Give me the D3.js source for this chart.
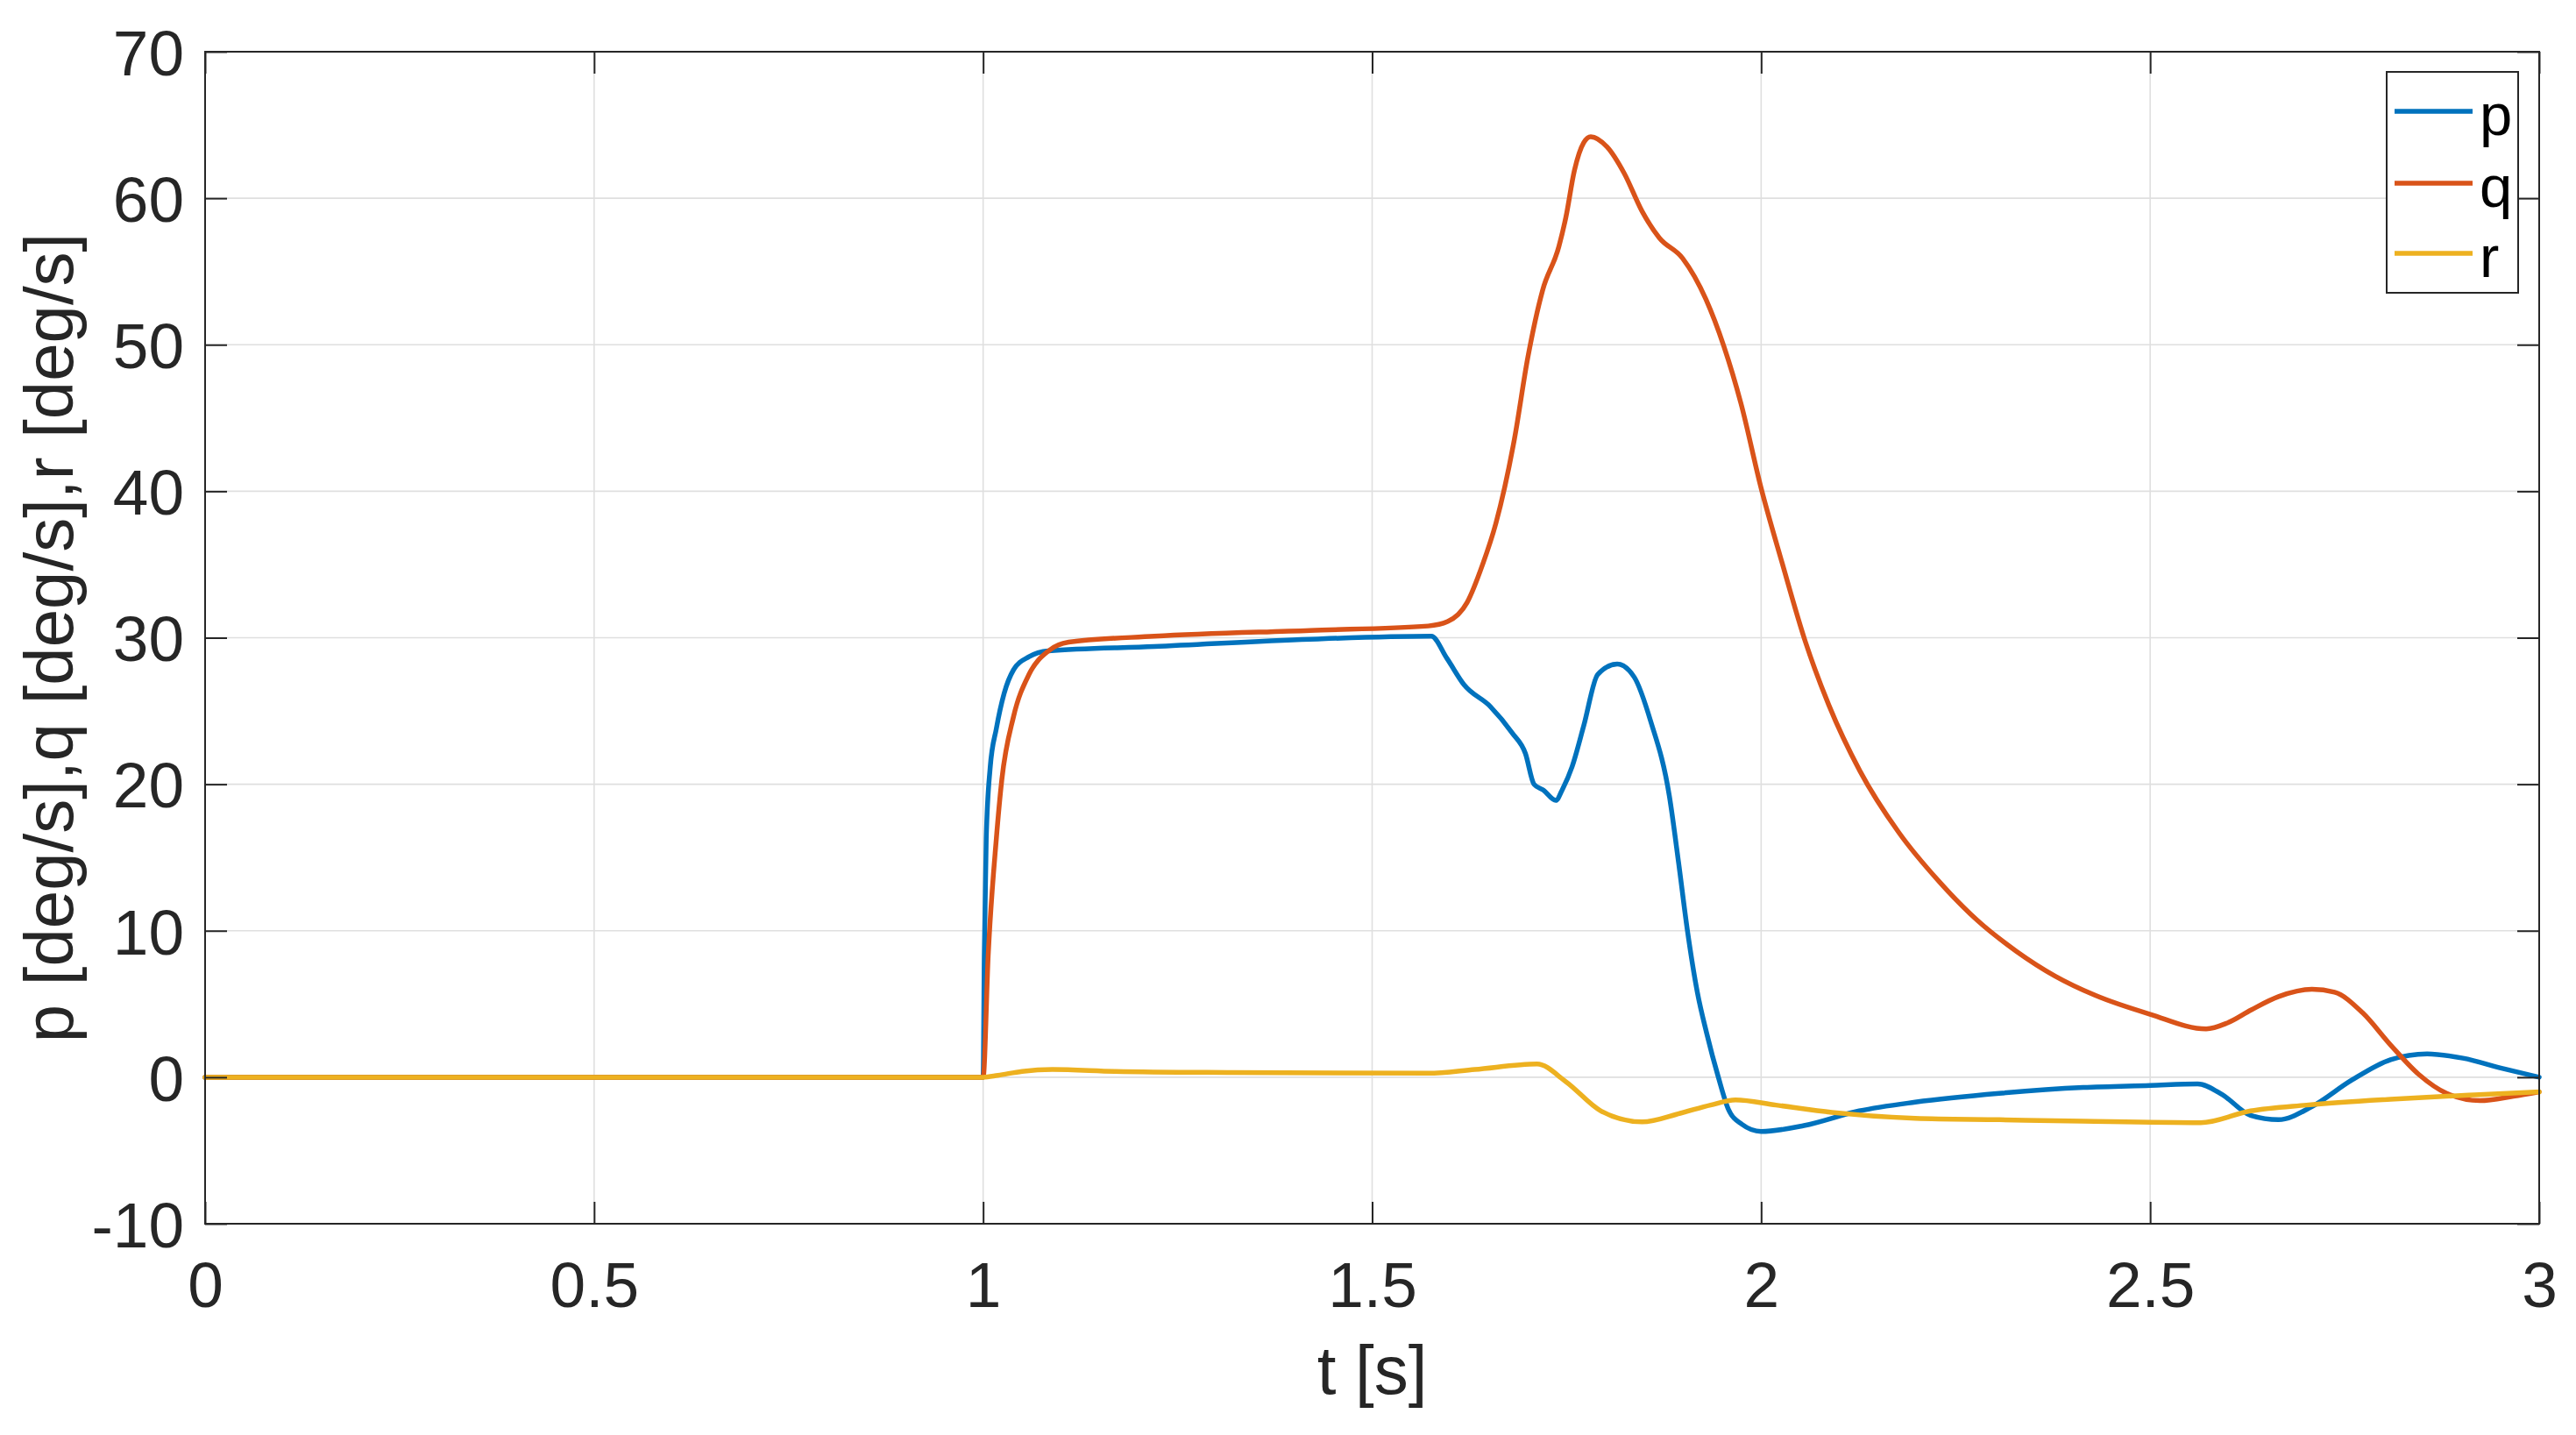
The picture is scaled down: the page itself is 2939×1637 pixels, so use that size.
<!DOCTYPE html>
<html>
<head>
<meta charset="utf-8">
<script src="https://cdn.jsdelivr.net/npm/d3@7"></script>
<style>
  html, body { margin: 0; padding: 0; background: #fff; }
  svg { display: block; }
  text { font-family: "Liberation Sans", Arial, Helvetica, sans-serif; }
</style>
</head>
<body>
<svg id="chart" width="2939" height="1637"></svg>
<script>
// ---------------- data ----------------
const seriesNames = ["p", "q", "r"];
const seriesColors = ["#0072BD", "#D95319", "#EDB120"];

const pTime = [0, 1.0, 1.0015, 1.004, 1.009, 1.017, 1.027, 1.039, 1.059, 1.084, 1.22, 1.42, 1.576, 1.596, 1.618, 1.652, 1.68, 1.697, 1.708, 1.72, 1.736, 1.745, 1.757, 1.772, 1.79, 1.815, 1.837, 1.858, 1.882, 1.894, 1.905, 1.918, 1.93, 1.945, 1.958, 1.975, 2.0, 2.055, 2.126, 2.198, 2.306, 2.414, 2.5, 2.561, 2.593, 2.629, 2.665, 2.708, 2.759, 2.809, 2.856, 2.902, 2.953, 3.0];
const pValues = [0, 0, 8.3, 16.3, 21.1, 23.8, 26.2, 27.8, 28.7, 29.1, 29.4, 29.9, 30.1, 28.6, 26.8, 25.3, 23.5, 22.1, 20.0, 19.6, 18.9, 19.7, 21.2, 24.0, 27.5, 28.2, 27.3, 24.3, 19.2, 14.6, 10.1, 5.8, 3.0, 0.0, -2.2, -3.2, -3.7, -3.3, -2.3, -1.7, -1.1, -0.7, -0.56, -0.46, -1.2, -2.6, -2.9, -2.0, -0.2, 1.2, 1.6, 1.3, 0.6, 0.0];

const qTime = [0, 1.0, 1.0065, 1.017, 1.024, 1.039, 1.059, 1.084, 1.11, 1.22, 1.42, 1.572, 1.597, 1.622, 1.642, 1.659, 1.683, 1.7, 1.719, 1.74, 1.749, 1.76, 1.772, 1.781, 1.802, 1.824, 1.847, 1.869, 1.899, 1.929, 1.952, 1.974, 2.0, 2.027, 2.057, 2.087, 2.127, 2.177, 2.228, 2.278, 2.328, 2.378, 2.429, 2.5, 2.572, 2.599, 2.63, 2.665, 2.708, 2.737, 2.773, 2.809, 2.845, 2.881, 2.924, 2.967, 3.0];
const qValues = [0, 0, 8.3, 16.3, 20.3, 24.6, 27.5, 29.1, 29.7, 30.1, 30.5, 30.8, 31.1, 32.4, 35.0, 37.8, 43.6, 49.1, 53.7, 56.7, 58.7, 61.9, 63.8, 64.2, 63.5, 61.7, 59.1, 57.3, 55.9, 53.1, 49.9, 46.0, 40.2, 35.1, 29.7, 25.4, 20.9, 16.7, 13.4, 10.7, 8.6, 6.9, 5.6, 4.3, 3.3, 3.7, 4.6, 5.5, 6.0, 5.8, 4.4, 2.2, 0.2, -1.1, -1.6, -1.3, -1.0];

const rTime = [0, 1.0, 1.019, 1.05, 1.089, 1.17, 1.32, 1.572, 1.632, 1.712, 1.749, 1.794, 1.847, 1.896, 1.935, 1.967, 2.019, 2.091, 2.198, 2.306, 2.414, 2.565, 2.629, 2.701, 2.809, 2.917, 3.0];
const rValues = [0, 0, 0.13, 0.4, 0.53, 0.4, 0.32, 0.27, 0.53, 0.9, -0.3, -2.3, -3.05, -2.46, -1.9, -1.55, -1.9, -2.4, -2.8, -2.9, -3.0, -3.1, -2.3, -1.9, -1.5, -1.2, -1.0];

const xTicks = [0, 0.5, 1, 1.5, 2, 2.5, 3];
const xTickLabels = ["0", "0.5", "1", "1.5", "2", "2.5", "3"];
const yTicks = [-10, 0, 10, 20, 30, 40, 50, 60, 70];
const yTickLabels = ["-10", "0", "10", "20", "30", "40", "50", "60", "70"];
const xLabel = "t [s]";
const yLabel = "p [deg/s],q [deg/s],r [deg/s]";

// ---------------- layout ----------------
const L = 234, R = 2897, T = 59, B = 1396;
const axisColor = "#262626";
const tickFont = 73, labelFont = 78, legendFont = 67;

const svg = d3.select("#chart");
svg.append("rect").attr("width", 2939).attr("height", 1637).attr("fill", "#fff");

const x = d3.scaleLinear().domain([0, 3]).range([L, R]);
const y = d3.scaleLinear().domain([-10, 70]).range([B, T]);

// grid
const grid = svg.append("g").attr("stroke", "#dfdfdf").attr("stroke-width", 1.6);
grid.selectAll("line.gx").data(xTicks).join("line")
  .attr("x1", d => x(d)).attr("x2", d => x(d)).attr("y1", T).attr("y2", B);
grid.selectAll("line.gy").data(yTicks).join("line")
  .attr("y1", d => y(d)).attr("y2", d => y(d)).attr("x1", L).attr("x2", R);

// series
const series = [
  { name: seriesNames[0], color: seriesColors[0], t: pTime, v: pValues },
  { name: seriesNames[1], color: seriesColors[1], t: qTime, v: qValues },
  { name: seriesNames[2], color: seriesColors[2], t: rTime, v: rValues }
];
const line = d3.line().x(d => x(d[0])).y(d => y(d[1])).curve(d3.curveMonotoneX);
const gLines = svg.append("g");
series.forEach(s => {
  const pts = s.t.map((t, i) => [t, s.v[i]]);
  gLines.append("path").datum(pts)
    .attr("d", line)
    .attr("fill", "none")
    .attr("stroke", s.color)
    .attr("stroke-width", 5.5)
    .attr("stroke-linejoin", "round")
    .attr("stroke-linecap", "round");
});

// axes
function styleAxis(g) {
  g.selectAll("path.domain").remove();
  g.selectAll(".tick line").attr("stroke", axisColor).attr("stroke-width", 2);
  g.selectAll(".tick text").attr("fill", axisColor).style("font-size", tickFont + "px")
    .style("font-family", '"Liberation Sans", Arial, Helvetica, sans-serif');
}
const xAxis = d3.axisBottom(x).tickValues(xTicks).tickFormat((d, i) => xTickLabels[i])
  .tickSizeInner(-25).tickSizeOuter(0).tickPadding(43);
svg.append("g").attr("transform", `translate(0,${B})`).call(xAxis).call(styleAxis);

const xAxisTop = d3.axisTop(x).tickValues(xTicks).tickFormat("").tickSizeInner(-25).tickSizeOuter(0);
svg.append("g").attr("transform", `translate(0,${T})`).call(xAxisTop).call(styleAxis);

const yAxis = d3.axisLeft(y).tickValues(yTicks).tickFormat((d, i) => yTickLabels[i])
  .tickSizeInner(-25).tickSizeOuter(0).tickPadding(24);
const gy = svg.append("g").attr("transform", `translate(${L},0)`).call(yAxis).call(styleAxis);
gy.selectAll(".tick text").attr("dy", "0.36em");

const yAxisRight = d3.axisRight(y).tickValues(yTicks).tickFormat("").tickSizeInner(-25).tickSizeOuter(0);
svg.append("g").attr("transform", `translate(${R},0)`).call(yAxisRight).call(styleAxis);

// box
svg.append("rect").attr("x", L).attr("y", T).attr("width", R - L).attr("height", B - T)
  .attr("fill", "none").attr("stroke", axisColor).attr("stroke-width", 2);

// axis labels
svg.append("text").attr("x", (L + R) / 2).attr("y", 1590)
  .attr("text-anchor", "middle").attr("fill", axisColor)
  .style("font-size", labelFont + "px").text(xLabel);
svg.append("text").attr("transform", `translate(83,${(T + B) / 2}) rotate(-90)`)
  .attr("text-anchor", "middle").attr("fill", axisColor)
  .style("font-size", labelFont + "px").text(yLabel);

// legend
const lg = svg.append("g");
lg.append("rect").attr("x", 2723).attr("y", 82).attr("width", 150).attr("height", 252)
  .attr("fill", "#fff").attr("stroke", axisColor).attr("stroke-width", 2);
const legendRows = [127, 209, 289];
series.forEach((s, i) => {
  lg.append("line").attr("x1", 2732).attr("x2", 2821)
    .attr("y1", legendRows[i]).attr("y2", legendRows[i])
    .attr("stroke", s.color).attr("stroke-width", 5.5);
  lg.append("text").attr("x", 2829).attr("y", legendRows[i] + 27)
    .attr("fill", "#000").style("font-size", legendFont + "px").text(s.name);
});
</script>
</body>
</html>
